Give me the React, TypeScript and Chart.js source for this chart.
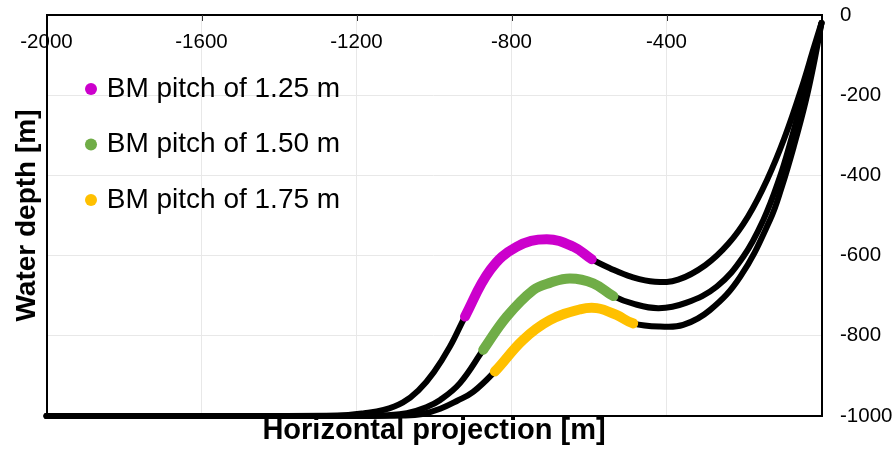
import React, { useEffect, useRef } from "react";
import { Chart, registerables } from "chart.js";

Chart.register(...registerables);

const FONT = "'Liberation Sans', Arial, sans-serif";

// ---- data ----
const xTickValues = [-2000, -1600, -1200, -800, -400];
const yTickValues = [0, -200, -400, -600, -800, -1000];
const xTitle = "Horizontal projection [m]";
const yTitle = "Water depth [m]";
const seriesLabels = ["BM pitch of 1.25 m", "BM pitch of 1.50 m", "BM pitch of 1.75 m"];
const seriesColors = ["#CC00CC", "#70AD47", "#FFC000"];

const curve125 = [
  [-2000, -1000], [-1400, -1000], [-1250, -999], [-1180, -993], [-1130, -985], [-1080, -966],
  [-1040, -936], [-1000, -890], [-959, -827], [-920, -752], [-855, -636], [-787, -578],
  [-709, -559], [-640, -578], [-593, -609], [-545, -632], [-490, -653], [-430, -665],
  [-370, -660], [-300, -624], [-240, -570], [-190, -503], [-140, -410], [-95, -305],
  [-50, -178], [-20, -82], [0, -20],
];
const curve150 = [
  [-2000, -1000], [-1300, -1000], [-1200, -1000], [-1120, -998], [-1070, -993], [-1020, -978],
  [-984, -960], [-933, -918], [-873, -835], [-812, -752], [-744, -686], [-701, -668],
  [-649, -657], [-589, -669], [-537, -701], [-486, -720], [-420, -731], [-350, -718],
  [-270, -677], [-202, -603], [-150, -511], [-107, -403], [-81, -320], [-47, -200],
  [-17, -90], [0, -20],
];
const curve175 = [
  [-2000, -1000], [-1200, -1000], [-1080, -999], [-1030, -995], [-984, -982], [-940, -962],
  [-899, -940], [-843, -889], [-770, -810], [-701, -761], [-623, -734], [-580, -731],
  [-529, -748], [-486, -769], [-417, -777], [-357, -773], [-288, -736], [-210, -653],
  [-133, -511], [-102, -427], [-71, -326], [-41, -216], [-18, -113], [0, -20],
];
// x-range of the coloured (BM) section on each curve
const bmRange125 = [-920, -593];
const bmRange150 = [-873, -537];
const bmRange175 = [-843, -486];

const curves = [curve125, curve150, curve175];
const bmRanges = [bmRange125, bmRange150, bmRange175];

const toPoints = (c: number[][]) => c.map(([x, y]) => ({ x, y }));

const insideTicksPlugin = {
  id: "insideTicks",
  beforeDatasetsDraw(chart: any) {
    const { ctx, chartArea, scales } = chart;
    const xs = scales.x;
    ctx.save();
    ctx.strokeStyle = "#333";
    ctx.lineWidth = 1;
    xTickValues.forEach((v) => {
      if (v === xs.min) return;
      const px = Math.round(xs.getPixelForValue(v)) + 0.5;
      ctx.beginPath();
      ctx.moveTo(px, chartArea.top);
      ctx.lineTo(px, chartArea.top + 6);
      ctx.stroke();
    });
    ctx.restore();
  },
};

const legendPlacePlugin = {
  id: "legendPlace",
  afterLayout(chart: any) {
    const lg = chart.legend;
    if (!lg) return;
    const a = chart.chartArea;
    lg.left = a.left + 15.3;
    lg.top = a.top + 32.5;
    lg.right = lg.left + lg.width + 200;
    lg.bottom = lg.top + lg.height;
  },
};

export default function App() {
  const ref = useRef<HTMLCanvasElement | null>(null);

  useEffect(() => {
    if (!ref.current) return;

    const colored = curves.map((c, i) => {
      const data = toPoints(c);
      const r = bmRanges[i];
      return {
        label: seriesLabels[i],
        data,
        borderColor: seriesColors[i],
        backgroundColor: seriesColors[i],
        borderWidth: 10,
        borderCapStyle: "round",
        borderJoinStyle: "round",
        pointRadius: 0,
        pointHoverRadius: 0,
        tension: 0.4,
        clip: false,
        segment: {
          borderColor: (ctx: any) => {
            const x0 = data[ctx.p0DataIndex].x;
            const x1 = data[ctx.p1DataIndex].x;
            return x0 >= r[0] && x1 <= r[1] ? seriesColors[i] : "rgba(0,0,0,0)";
          },
        },
      };
    });
    const black = curves.map((c) => ({
      label: "",
      data: toPoints(c),
      borderColor: "#000000",
      backgroundColor: "#000000",
      borderWidth: 6,
      borderCapStyle: "round",
      borderJoinStyle: "round",
      pointRadius: 0,
      pointHoverRadius: 0,
      tension: 0.4,
      clip: false,
    }));

    const gridColor = (ends: number[]) => (ctx: any) =>
      ends.includes(ctx.tick?.value) ? "rgba(0,0,0,0)" : "#e8e8e8";

    const chart = new Chart(ref.current, {
      type: "line",
      data: { datasets: [...colored, ...black] as any },
      plugins: [insideTicksPlugin, legendPlacePlugin],
      options: {
        animation: false,
        responsive: false,
        devicePixelRatio: 1,
        layout: { padding: 0 },
        font: { family: FONT },
        plugins: {
          tooltip: { enabled: false },
          legend: {
            position: "chartArea",
            align: "start",
            labels: {
              usePointStyle: true,
              boxWidth: 3.4,
              boxHeight: 8.5,
              padding: 27.5,
              color: "#000",
              font: { family: FONT, size: 28 },
              generateLabels: () =>
                seriesLabels.map((t, i) => ({
                  text: t,
                  fillStyle: seriesColors[i],
                  strokeStyle: seriesColors[i],
                  lineWidth: 0,
                  pointStyle: "circle",
                  datasetIndex: i,
                  hidden: false,
                  fontColor: "#000",
                })),
            },
          },
        },
        scales: {
          x: {
            type: "linear",
            position: "top",
            min: -2000,
            max: 0,
            afterFit: (s: any) => { s.height = 15; },
            grid: { color: gridColor([-2000, 0]), lineWidth: 1, drawTicks: false },
            border: { display: true, color: "#000", width: 2 },
            ticks: {
              stepSize: 400,
              mirror: true,
              padding: 15,
              autoSkip: false,
              maxRotation: 0,
              color: "#000",
              font: { family: FONT, size: 20.5 },
              callback: (v: any) => (xTickValues.includes(v) ? String(v) : ""),
            },
          },
          xb: {
            type: "linear",
            position: "bottom",
            min: -2000,
            max: 0,
            afterFit: (s: any) => { s.height = 37; },
            grid: { display: false, drawTicks: false },
            border: { display: true, color: "#000", width: 2 },
            ticks: { display: false },
            title: {
              display: true,
              text: xTitle,
              color: "#000",
              font: { family: FONT, size: 29, weight: "bold" },
              padding: { top: 0, bottom: 4.6 },
            },
          },
          y: {
            type: "linear",
            position: "right",
            min: -1000,
            max: 0,
            afterFit: (s: any) => { s.width = 72.5; s.paddingTop = 0; s.paddingBottom = 0; },
            grid: { color: gridColor([0, -1000]), lineWidth: 1, drawTicks: false },
            border: { display: true, color: "#000", width: 2 },
            ticks: {
              stepSize: 200,
              padding: 18.5,
              color: "#000",
              font: { family: FONT, size: 20.5 },
              callback: (v: any) => (yTickValues.includes(v) ? String(v) : ""),
            },
          },
          yl: {
            type: "linear",
            position: "left",
            min: -1000,
            max: 0,
            afterFit: (s: any) => { s.width = 46.5; s.paddingTop = 0; s.paddingBottom = 0; },
            grid: { display: false, drawTicks: false },
            border: { display: true, color: "#000", width: 2 },
            ticks: { display: false },
            title: {
              display: true,
              text: yTitle,
              color: "#000",
              font: { family: FONT, size: 28, weight: "bold" },
              padding: { top: 10.5, bottom: 0 },
            },
          },
        },
      } as any,
    });

    return () => chart.destroy();
  }, []);

  return (
    <div style={{ position: "absolute", left: 0, top: 0, width: 894, height: 453, background: "#fff" }}>
      <canvas ref={ref} width={894} height={453} style={{ width: 894, height: 453, display: "block" }} />
    </div>
  );
}
